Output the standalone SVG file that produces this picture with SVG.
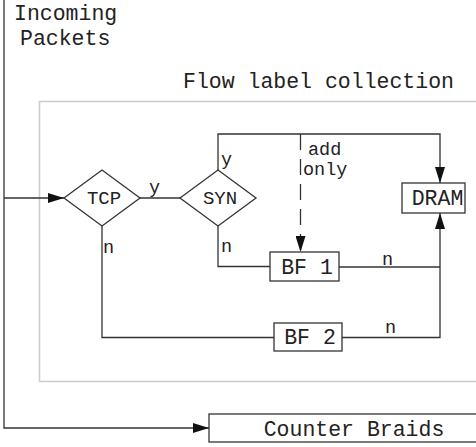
<svg xmlns="http://www.w3.org/2000/svg" width="476" height="447" viewBox="0 0 476 447">
<style>
  text { font-family: "Liberation Mono", "Courier New", monospace; fill: #222; }
  .big { font-size: 21.5px; }
  .nd { font-size: 19px; text-anchor: middle; }
  .nb { font-size: 21.5px; text-anchor: middle; }
  .lb { font-size: 18.5px; }
  .shape { fill: #fff; stroke: #333; stroke-width: 1.3; }
  .conn path { fill: none; stroke: #333; stroke-width: 1.3; }
  .frame { fill: none; stroke: #cdcdcd; stroke-width: 1.6; }
</style>
<defs>
  <marker id="ah" viewBox="0 0 16 10" refX="16" refY="5" markerWidth="16" markerHeight="10" markerUnits="userSpaceOnUse" orient="auto">
    <path d="M0,0 L16,5 L0,10 Z" fill="#111"/>
  </marker>
</defs>
<rect width="476" height="447" fill="#fff"/>
<g id="flow-label-collection">
  <rect class="frame" x="39.5" y="101.5" width="460" height="280"/>
  <text class="big" x="183" y="88">Flow label collection</text>
</g>
<g id="incoming">
  <text class="big" x="14" y="20">Incoming</text>
  <text class="big" x="20" y="45">Packets</text>
</g>
<g class="conn" id="connectors">
  <path d="M4,0 V428 H209" marker-end="url(#ah)"/>
  <path d="M4,198 H64" marker-end="url(#ah)"/>
  <path d="M140,198 H180"/>
  <path d="M218,170 V134 H440 V183" marker-end="url(#ah)"/>
  <path d="M300.5,134 V252" stroke-dasharray="16 9" marker-end="url(#ah)"/>
  <path d="M218,226 V266.5 H270"/>
  <path d="M339,267 H440"/>
  <path d="M102,226 V337.5 H274"/>
  <path d="M342,337.5 H440 V213" marker-end="url(#ah)"/>
  <text class="lb" x="149" y="193">y</text>
  <text class="lb" x="221" y="165">y</text>
  <text class="lb" x="221" y="252">n</text>
  <text class="lb" x="103" y="253">n</text>
  <text class="lb" x="382" y="265">n</text>
  <text class="lb" x="385" y="333">n</text>
  <text class="lb" x="308" y="155">add</text>
  <text class="lb" x="303" y="175">only</text>
</g>
<g id="tcp">
  <polygon class="shape" points="64,198 102,170 140,198 102,226"/>
  <text class="nd" x="104" y="204">TCP</text>
</g>
<g id="syn">
  <polygon class="shape" points="180,198 218,170 256,198 218,226"/>
  <text class="nd" x="220" y="203.5">SYN</text>
</g>
<g id="dram">
  <rect class="shape" x="402" y="183" width="63" height="30"/>
  <text class="nb" x="437.5" y="204.5">DRAM</text>
</g>
<g id="bf1">
  <rect class="shape" x="270" y="252" width="69" height="29"/>
  <text class="nb" x="307" y="273.5">BF 1</text>
</g>
<g id="bf2">
  <rect class="shape" x="274" y="323" width="68" height="28"/>
  <text class="nb" x="310" y="343.5">BF 2</text>
</g>
<g id="counter-braids">
  <rect class="shape" x="209" y="414" width="280" height="28"/>
  <text class="nb" x="354" y="436">Counter Braids</text>
</g>
</svg>
